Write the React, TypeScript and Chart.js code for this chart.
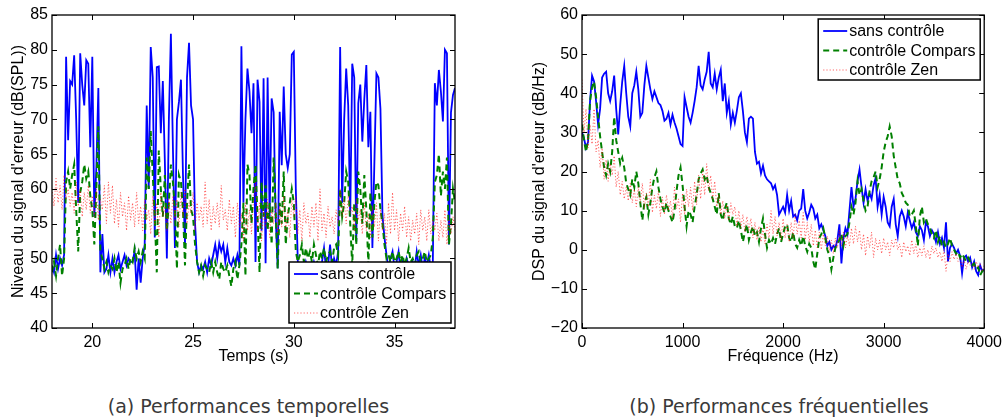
import React, { useEffect, useRef } from "react";
import { Chart, registerables } from "chart.js";

Chart.register(...registerables);

// ---------- (a) time domain : Temps (s) ----------
const TIME_START = 18;
const TIME_STEP = 0.1;
const TIME_MIN = 18;
const TIME_MAX = 38;
const TIME_TICKS = [20, 25, 30, 35];
const LEVEL_MIN = 40;
const LEVEL_MAX = 85;
const LEVEL_TICKS = [40, 45, 50, 55, 60, 65, 70, 75, 80, 85];

const levelSansControle = [
  49, 48, 50.5, 48.5, 50, 49, 50.5, 79, 67, 75.5,
  75, 79.2, 70, 58, 79.5, 75, 72, 78.5, 78, 66,
  79, 56, 63, 74.5, 48, 53.5, 48, 48.5, 50.5, 48,
  50, 48, 49.5, 50.5, 48.5, 49.5, 50.5, 49, 50, 49.5,
  49.5, 51, 45.5, 50, 46.5, 50, 52, 72, 60, 80.4,
  76, 53, 77.5, 77.6, 68, 75.5, 64, 50, 70, 82.3,
  66, 51.5, 70, 72.5, 75.7, 62, 52, 76, 81, 72,
  70, 55, 49.5, 48, 49, 48.5, 49.5, 48, 50, 49,
  50.5, 52, 50, 52.2, 51, 52, 49.5, 51.5, 49.5, 49,
  50, 49, 50.5, 49, 80.5, 58, 70, 77.3, 74, 68,
  75.2, 49.5, 75.7, 72.5, 54, 75.9, 49.3, 76, 56, 73,
  71, 56, 48.6, 71.1, 63.4, 74.7, 65, 63, 65, 79.3,
  79.7, 60, 49.5, 48.5, 49, 48, 49.5, 48.5, 49, 48,
  49.5, 48.5, 49, 48, 49.5, 51.5, 48.5, 49, 52, 48.5,
  50, 49, 51, 80.4, 58, 70, 77.3, 72, 56, 78,
  76, 52.4, 72.3, 75, 66.8, 73, 77.8, 66, 71.1, 51.5,
  63.9, 76.6, 76, 71.5, 56.2, 53, 50.5, 48.5, 50, 51,
  48.5, 49.5, 51, 48, 49.5, 48.5, 50, 49, 48, 49.5,
  48.5, 51, 49, 50.5, 48.5, 50, 49, 50.5, 48.5, 49.5,
  75.2, 72, 77.1, 74, 69.7, 80, 79.5, 52, 71, 73.5,
  74.5,
];

const levelCompars = [
  48, 49.5, 47.5, 50, 52, 47.5, 50, 61, 62.5, 60,
  62, 63.5, 57, 51, 59.5, 61, 63.5, 61.5, 62.5, 59,
  57, 52, 60, 69, 51, 50, 48.5, 49.5, 48, 49,
  48.5, 50, 48, 49.5, 46.5, 48.5, 49, 50, 48.5, 50,
  49.5, 51.5, 50, 51, 49.5, 51, 50, 64.5, 60, 68.3,
  62, 56, 48, 65.5, 60, 56, 62, 54, 58, 63.5,
  61, 57, 48.5, 62, 61, 57, 49, 58, 63.5, 57,
  56, 52, 49.5, 48, 49, 47.5, 49, 48.5, 48, 49.5,
  48, 49.5, 48, 47, 49.5, 48.5, 48, 49, 47.5, 46,
  48.5, 49.5, 47, 49, 52, 58, 47.5, 63.5, 62, 55,
  60, 63.5, 56, 48, 61, 56, 60.5, 54, 58, 52,
  64.5, 57, 48.5, 58, 55, 62.5, 52, 56, 58, 60,
  58, 51, 49.5, 50.5, 52, 49.5, 51.5, 50, 51, 49.5,
  52, 50.5, 49, 51, 50, 51.5, 49.5, 50.5, 51, 49.5,
  51.5, 52, 50.5, 60, 56, 58, 62.5, 61, 55, 49,
  58, 52, 62.5, 60, 55, 62, 57, 49, 59.5, 53,
  58, 61, 60.5, 57, 55, 52, 50, 50.5, 49.5, 51,
  49.5, 50, 51, 49.5, 50.5, 49, 50, 51.5, 49.5, 50,
  49, 50.5, 51, 49.5, 50, 51, 49.5, 50, 50.5, 53,
  61, 62, 65, 59, 62.5, 60, 64.5, 52, 55, 60,
  58,
];

const levelZen = [
  60, 57.5, 61.5, 58, 60.5, 57, 62, 58.5, 60, 57.5,
  59.5, 56.5, 61, 57.5, 60, 56, 59.5, 57, 60.5, 56.5,
  59, 56, 60, 55.5, 58.5, 57, 60.5, 55, 61, 56.5,
  60.5, 55, 58.5, 54.5, 59.5, 56, 58, 54, 59, 55.5,
  58, 54.5, 59.5, 55, 57.5, 54, 58.5, 55.5, 57, 53.5,
  59, 55, 58, 53, 59.5, 56, 57.5, 54, 58.5, 55,
  59, 55.5, 58.5, 54.5, 59.5, 56, 60, 55, 58, 56.5,
  59.5, 54, 58, 55.5, 57.5, 54.5, 61, 55, 58.5, 54,
  57.5, 55, 58, 54.5, 60.5, 55.5, 57, 54, 58.5, 55,
  57.5, 53, 58, 54.5, 56.5, 52.5, 58, 54, 57, 53.5,
  58.5, 61, 54, 58, 52.5, 57, 54.5, 58.5, 53, 57,
  55, 58, 53.5, 57.5, 54.5, 59, 54, 57, 53, 58.5,
  56, 59, 53.5, 57, 52.5, 58, 55, 56.5, 53, 57.5,
  54.5, 58, 52.5, 60, 54, 56.5, 53, 57.5, 54.5, 56,
  53.5, 57, 55, 60, 56, 58.5, 55, 59, 56.5, 57.5,
  54, 58.5, 55.5, 57, 53.5, 58, 54, 56.5, 53, 57.5,
  54.5, 58, 52.5, 57, 54, 56.5, 52, 58, 53.5, 59.5,
  54, 57, 52.5, 56.5, 54, 57.5, 53, 56, 52.5, 55.5,
  53.5, 56.5, 52, 57, 54, 56, 52.5, 57, 53.5, 55.5,
  54, 56.5, 52.5, 55.5, 53, 57, 52, 55.5, 53.5, 56,
  54,
];

// ---------- (b) frequency domain : Fréquence (Hz) ----------
const FREQ_START = 0;
const FREQ_STEP = 20;
const FREQ_MIN = 0;
const FREQ_MAX = 4000;
const FREQ_TICKS = [0, 1000, 2000, 3000, 4000];
const DSP_MIN = -20;
const DSP_MAX = 60;
const DSP_TICKS = [-20, -10, 0, 10, 20, 30, 40, 50, 60];

const dspSansControle = [
  30, 28.5, 26, 27.5, 38, 44.5, 43, 38, 32, 36,
  44, 45, 45.5, 40, 38, 40.5, 44.5, 36, 29.5, 37,
  43, 47, 40, 34, 31.5, 40, 42, 45.5, 41, 34,
  35, 42, 47, 44, 41, 38.5, 40.5, 39, 37.5, 37,
  35.5, 33, 33.5, 35, 32, 34.5, 32.5, 31, 29, 27,
  26.5, 39, 36.5, 34, 32.5, 35, 38, 41.5, 47, 42,
  41, 43.5, 45.5, 50.6, 42.5, 41.5, 45, 41, 44, 46,
  38, 42.5, 35, 38, 32, 35, 32.5, 35.5, 39, 40,
  35.5, 30, 27.5, 33.5, 34, 33.5, 25, 22, 22.5, 19.5,
  21.5, 19, 18, 17.5, 17, 15.5, 16.5, 14, 9, 10,
  11, 9.5, 14, 10, 12.5, 8.5, 9, 7.5, 10, 10.5,
  15.5, 10, 8, 9.5, 11.5, 10.5, 8, 9, 5.5, 6.5,
  5, 3.5, 1, 2, 0, 1, 0.5, 2.5, 6.5, -3.5,
  3, 5.5, 4, 10, 16, 11, 13, 17.5, 20.5, 16,
  12, 15.5, 12.5, 14.5, 13, 16.5, 18.3, 11, 14, 9,
  13.5, 11, 7, 6, 11, 13, 6.5, 3.5, 8.5, 10,
  8.5, 6, 9.5, 7.5, 5.5, 7, 4.5, 3.5, 6, 5,
  2.5, 7, 6, 3.5, 5, 4, 2, 4.5, 1.5, 3,
  0.5, 7, -3, 0.5, 1.5, 0.5, -1, 0, -1.5, -6,
  -2, -1.5, -3, -2, -4.5, -3, -5.5, -6.5, -4, -5.5,
  -5,
];

const dspCompars = [
  32, 28, 25, 28, 38, 41.5, 43, 39, 34, 29,
  25, 21, 19, 22, 20, 25, 34, 28, 25, 22,
  23.5, 21, 17, 15.5, 14, 18, 16, 20, 17, 12,
  7.5, 12, 13.5, 9, 12, 16, 18.5, 20, 16, 13,
  11, 9.5, 12, 10, 8.5, 7, 10, 15, 19, 21,
  16.5, 11, 6, 10, 9, 7, 11, 14, 18, 19.5,
  20.5, 18, 19, 16, 14.5, 13, 11, 9, 14.5, 9,
  7.5, 10.5, 12, 8, 6.5, 8.5, 6, 5.5, 7.5, 5,
  2, 4.5, 6.5, 2.5, 4.5, 6, 3.5, 4.5, 2, 5.5,
  8, 4, 0.5, 2.5, 1.5, 3, 1.5, 4, 5.5, 2,
  4, 6, 6.5, 3, 2, 4.5, 1.5, 0.5, 2.5, 1,
  3.5, 1, -0.5, 1.5, 0.5, -3, -5, -1, 3, 4,
  5.5, 3, 0, -1.5, -5, -2, 0.5, 1.5, 2.5, 4,
  1, 3.5, 4, 7, 11, 9, 12, 17.5, 14, 15.5,
  12.5, 10, 11, 15, 17.5, 18.5, 20, 16, 18, 21,
  25, 27.5, 29, 31.5, 29, 24, 21, 18, 17, 14.5,
  13.5, 12, 11.5, 8.5, 9, 10, 6, 1, 8.5, 11,
  7, 8, 6.5, 5.5, 4, 3, 5, 2, 3.5, 1,
  2, 0.5, 1.5, 3, 1, 0, -1, -0.5, -2, -1,
  -2, -3, -2, -3, -4, -3.5, -5, -4.5, -6.5, -5.5,
  -5,
];

const dspZen = [
  43.5, 30, 36, 26, 32, 27, 36, 25, 28, 21,
  26, 18, 23, 17.5, 22, 19, 24, 16, 20, 14,
  17.5, 13, 16, 12.5, 17, 12, 15.5, 11, 16, 12,
  17, 10.5, 14.5, 11, 18, 9.5, 14, 10.5, 15, 8.5,
  13.5, 9, 14, 10, 12.5, 8, 16, 10.5, 13, 7,
  14.5, 9, 15.5, 11, 16, 10, 17.5, 11.5, 19, 13,
  20, 14, 22, 15, 19, 13, 17.5, 11, 14, 9,
  12.5, 8, 11.5, 7.5, 12, 9, 11, 6, 10, 5.5,
  9, 4.5, 8.5, 5, 8, 3, 7, 2.5, 6, 2,
  5.5, 1.5, 6.5, 3, 10, 4, 8.5, 3.5, 7, 2.5,
  8, 3, 6.5, 2, 7, 3, 9, 4, 7.5, 3,
  9.5, 2.5, 7, 2, 6.5, 1, 5, 0.5, 4.5, 0,
  4, 1, 3.5, -0.5, 2.5, -1, 3, 0.5, 5, 1,
  4.5, 0.5, 3.5, 1, 5.5, 1.5, 6, 2, 5, 0,
  4, -1.5, 3.5, 0.5, 4.5, -2, 3, 0, 2.5, -1,
  3, 0, 2, -1.5, 2.5, 0.5, 3, 0, 1.5, -2,
  2, -0.5, 1, -1.5, 2.5, -1, 1.5, -2, 0.5, -1.5,
  1, -2, 0, -2.5, 1, -1, 0.5, -2, -0.5, -3,
  0, -5.5, -1, -3, -0.5, -2.5, -1, -3, -2, -4.5,
  -2.5, -5, -3, -4, -3.5, -5, -3, -4.5, -3.5, -5.5,
  -4,
];

const SERIES_LABELS = ["sans contrôle", "contrôle Compars", "contrôle Zen"];

// ---------- styles ----------
const BLUE = "#0000ff";
const GREEN = "#008000";
const RED = "rgba(255,0,0,0.6)";
const AXIS_FONT = { family: "'Liberation Sans', Arial, sans-serif", size: 16 };

type Series = { color: string; width: number; dash: number[] };
const STYLES: Series[] = [
  { color: BLUE, width: 1.8, dash: [] },
  { color: GREEN, width: 2, dash: [6, 4] },
  { color: RED, width: 1, dash: [1.2, 2] },
];

function toPoints(start: number, step: number, ys: number[]) {
  return ys.map((y, i) => ({ x: start + i * step, y }));
}

const minusFmt = (v: number | string) => {
  const n = Number(v);
  return n < 0 ? "\u2212" + String(Math.abs(n)) : String(n);
};

function framePlugin() {
  return {
    id: "frameBox",
    afterDatasetsDraw(chart: any) {
      const { ctx, chartArea: a, scales } = chart;
      ctx.save();
      ctx.strokeStyle = "#000";
      ctx.lineWidth = 1;
      ctx.setLineDash([]);
      ctx.beginPath();
      const tl = 5;
      scales.x.ticks.forEach((t: any) => {
        const px = Math.round(scales.x.getPixelForValue(t.value)) + 0.5;
        ctx.moveTo(px, a.bottom);
        ctx.lineTo(px, a.bottom - tl);
        ctx.moveTo(px, a.top);
        ctx.lineTo(px, a.top + tl);
      });
      scales.y.ticks.forEach((t: any) => {
        const py = Math.round(scales.y.getPixelForValue(t.value)) + 0.5;
        ctx.moveTo(a.left, py);
        ctx.lineTo(a.left + tl, py);
        ctx.moveTo(a.right, py);
        ctx.lineTo(a.right - tl, py);
      });
      ctx.stroke();
      ctx.lineWidth = 1.3;
      ctx.strokeRect(a.left, a.top, a.right - a.left, a.bottom - a.top);
      ctx.restore();
    },
  };
}

function legendPlugin(corner: "top" | "bottom") {
  return {
    id: "boxLegend",
    afterDatasetsDraw(chart: any) {
      const { ctx, chartArea: a } = chart;
      const w = 162;
      const h = 61;
      const right = a.right - 4;
      const left = right - w;
      const top = corner === "top" ? a.top + 4 : a.bottom - 5 - h;
      ctx.save();
      ctx.fillStyle = "#fff";
      ctx.fillRect(left, top, w, h);
      ctx.strokeStyle = "#000";
      ctx.lineWidth = 1.5;
      ctx.setLineDash([]);
      ctx.strokeRect(left, top, w, h);
      ctx.font = `16px ${AXIS_FONT.family}`;
      ctx.textBaseline = "middle";
      ctx.fillStyle = "#000";
      SERIES_LABELS.forEach((label, i) => {
        const y = top + 12 + i * 19.5;
        const s = STYLES[i];
        ctx.beginPath();
        ctx.strokeStyle = s.color;
        ctx.lineWidth = s.width;
        ctx.setLineDash(s.dash);
        ctx.moveTo(left + 5, y);
        ctx.lineTo(left + 29, y);
        ctx.stroke();
        ctx.setLineDash([]);
        ctx.fillText(label, left + 31, y + 1);
      });
      ctx.restore();
    },
  };
}

function makeConfig(p: {
  start: number;
  step: number;
  series: number[][];
  xMin: number;
  xMax: number;
  xTicks: number[];
  yMin: number;
  yMax: number;
  yTicks: number[];
  xTitle: string;
  yTitle: string;
  yAxisWidth: number;
  yTitlePad: number;
  rightPad: number;
  legendCorner: "top" | "bottom";
}) {
  const datasets = p.series.map((ys, i) => ({
    label: SERIES_LABELS[i],
    data: toPoints(p.start, p.step, ys),
    borderColor: STYLES[i].color,
    borderWidth: STYLES[i].width,
    borderDash: STYLES[i].dash,
    pointRadius: 0,
    tension: 0,
    fill: false,
    order: 3 - i,
  }));
  return {
    type: "line" as const,
    data: { datasets },
    plugins: [framePlugin(), legendPlugin(p.legendCorner)],
    options: {
      responsive: false,
      animation: false as const,
      devicePixelRatio: 1,
      events: [] as any[],
      layout: { padding: { left: 0, right: p.rightPad, top: 15, bottom: 0 } },
      plugins: { legend: { display: false }, tooltip: { enabled: false } },
      scales: {
        x: {
          type: "linear" as const,
          min: p.xMin,
          max: p.xMax,
          afterBuildTicks: (s: any) => {
            s.ticks = p.xTicks.map((v) => ({ value: v }));
          },
          afterFit: (s: any) => {
            s.height = 52;
          },
          grid: { display: false, drawTicks: false },
          border: { display: false },
          ticks: {
            padding: 5,
            color: "#000",
            font: AXIS_FONT,
            maxRotation: 0,
            autoSkip: false,
            callback: (v: any) => minusFmt(v),
          },
          title: {
            display: true,
            text: p.xTitle,
            color: "#000",
            font: AXIS_FONT,
            padding: { top: 0, bottom: 14 },
          },
        },
        y: {
          type: "linear" as const,
          min: p.yMin,
          max: p.yMax,
          afterBuildTicks: (s: any) => {
            s.ticks = p.yTicks.map((v) => ({ value: v }));
          },
          afterFit: (s: any) => {
            s.width = p.yAxisWidth;
          },
          grid: { display: false, drawTicks: false },
          border: { display: false },
          ticks: {
            padding: 4,
            color: "#000",
            font: AXIS_FONT,
            autoSkip: false,
            callback: (v: any) => minusFmt(v),
          },
          title: {
            display: true,
            text: p.yTitle,
            color: "#000",
            font: AXIS_FONT,
            padding: { top: p.yTitlePad, bottom: 0 },
          },
        },
      },
    },
  };
}

function ChartCanvas({ config, width, height }: { config: any; width: number; height: number }) {
  const ref = useRef<HTMLCanvasElement | null>(null);
  useEffect(() => {
    if (!ref.current) return;
    const chart = new Chart(ref.current, config);
    return () => chart.destroy();
  }, [config]);
  return <canvas ref={ref} width={width} height={height} style={{ display: "block", width, height }} />;
}

const leftConfig = makeConfig({
  start: TIME_START,
  step: TIME_STEP,
  series: [levelSansControle, levelCompars, levelZen],
  xMin: TIME_MIN,
  xMax: TIME_MAX,
  xTicks: TIME_TICKS,
  yMin: LEVEL_MIN,
  yMax: LEVEL_MAX,
  yTicks: LEVEL_TICKS,
  xTitle: "Temps (s)",
  yTitle: "Niveau du signal d'erreur (dB(SPL))",
  yAxisWidth: 52,
  yTitlePad: 9,
  rightPad: 15,
  legendCorner: "bottom",
});

const rightConfig = makeConfig({
  start: FREQ_START,
  step: FREQ_STEP,
  series: [dspSansControle, dspCompars, dspZen],
  xMin: FREQ_MIN,
  xMax: FREQ_MAX,
  xTicks: FREQ_TICKS,
  yMin: DSP_MIN,
  yMax: DSP_MAX,
  yTicks: DSP_TICKS,
  xTitle: "Fréquence (Hz)",
  yTitle: "DSP du signal d'erreur (dB/Hz)",
  yAxisWidth: 62,
  yTitlePad: 10,
  rightPad: 21,
  legendCorner: "top",
});

const captionStyle: React.CSSProperties = {
  position: "absolute",
  top: 394,
  height: 24,
  lineHeight: "24px",
  textAlign: "center",
  fontFamily: "'DejaVu Sans', sans-serif",
  fontSize: 19,
  color: "#3a3a3a",
  whiteSpace: "nowrap",
};

export default function App() {
  return (
    <div
      style={{
        position: "absolute",
        left: 0,
        top: 0,
        width: 1007,
        height: 419,
        background: "#fff",
        overflow: "hidden",
      }}
    >
      <div style={{ position: "absolute", left: 0, top: 0 }}>
        <ChartCanvas config={leftConfig} width={470} height={380} />
      </div>
      <div style={{ position: "absolute", left: 520, top: 0 }}>
        <ChartCanvas config={rightConfig} width={487} height={380} />
      </div>
      <div style={{ ...captionStyle, left: 0, width: 497 }}>(a) Performances temporelles</div>
      <div style={{ ...captionStyle, left: 560, width: 438 }}>(b) Performances fréquentielles</div>
    </div>
  );
}
